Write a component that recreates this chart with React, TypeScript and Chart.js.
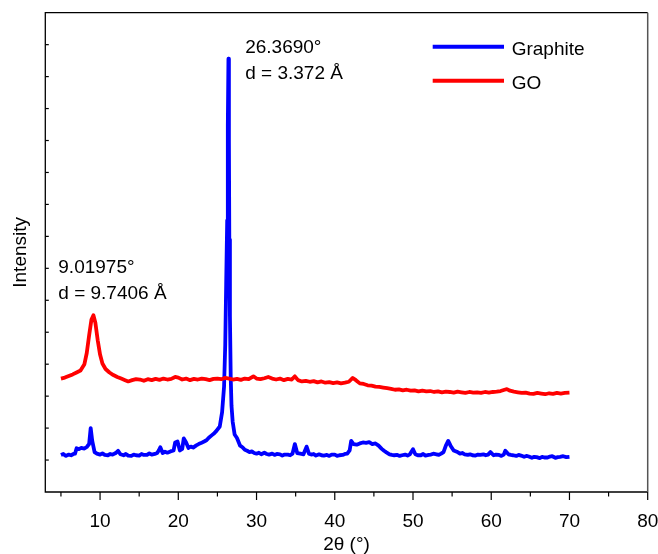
import React, { useEffect, useRef } from "react";
import { Chart, registerables } from "chart.js";

Chart.register(...registerables);

const seriesNames = ["Graphite", "GO"];
const seriesColors = ["#0000ff", "#ff0000"];

const graphiteX = [
  5.0, 5.3, 5.6, 6.0, 6.3, 6.6, 6.8, 7.0, 7.3, 7.6, 8.0, 8.3, 8.6, 8.8, 9.0, 9.3, 9.6, 10.0, 10.3, 10.6, 11.0, 11.3, 11.6, 12.0, 12.3, 12.6,
  13.0, 13.3, 13.6, 14.0, 14.3, 14.6, 15.0, 15.3, 15.6, 16.0, 16.3, 16.6, 17.0, 17.3, 17.5, 17.7, 18.0, 18.3, 18.6, 19.0, 19.4, 19.6, 19.9, 20.2,
  20.5, 20.7, 21.0, 21.3, 21.6, 21.9, 22.3, 22.6, 22.9, 23.3, 23.6, 23.9, 24.3, 24.6, 24.9, 25.3, 25.6, 25.85, 26.0, 26.12, 26.25, 26.33, 26.41,
  26.47, 26.52, 26.6, 26.7, 26.8, 26.95, 27.2, 27.5, 27.9, 28.2, 28.5, 28.8, 29.1, 29.4, 29.7, 30.0, 30.3, 30.6, 31.0, 31.3, 31.6, 32.0, 32.3, 32.6, 33.0,
  33.3, 33.6, 34.0, 34.3, 34.6, 34.9, 35.2, 35.6, 36.0, 36.4, 36.7, 37.0, 37.3, 37.6, 38.0, 38.3, 38.6, 39.0, 39.3, 39.6, 40.0, 40.3, 40.6, 41.0,
  41.3, 41.6, 41.9, 42.1, 42.4, 42.8, 43.2, 43.6, 44.0, 44.4, 44.8, 45.2, 45.6, 46.0, 46.3, 46.6, 47.0, 47.3, 47.6, 48.0, 48.3, 48.6,
  49.0, 49.3, 49.6, 50.0, 50.3, 50.6, 51.0, 51.3, 51.6, 52.0, 52.3, 52.6, 53.0, 53.3, 53.6, 53.9, 54.2, 54.5, 54.8, 55.2, 55.6, 56.0, 56.3, 56.6,
  57.0, 57.3, 57.6, 58.0, 58.3, 58.6, 59.0, 59.3, 59.6, 59.9, 60.3, 60.6, 61.0, 61.3, 61.6, 61.8, 62.2, 62.5, 62.8, 63.2, 63.5, 63.8, 64.2, 64.5, 64.8, 65.2,
  65.5, 65.8, 66.2, 66.5, 66.8, 67.2, 67.5, 67.8, 68.2, 68.5, 68.8, 69.2, 69.6, 70.0,
];
const graphiteY = [
  1.16, 1.19, 1.13, 1.17, 1.15, 1.19, 1.2, 1.37, 1.34, 1.38, 1.36, 1.41, 1.5, 2.0, 1.6, 1.25, 1.2, 1.17, 1.21, 1.16, 1.15, 1.19, 1.17, 1.22, 1.29, 1.18,
  1.15, 1.19, 1.14, 1.13, 1.17, 1.15, 1.14, 1.19, 1.16, 1.16, 1.21, 1.17, 1.19, 1.22, 1.3, 1.4, 1.22, 1.26, 1.23, 1.27, 1.3, 1.55, 1.58, 1.3,
  1.35, 1.68, 1.55, 1.38, 1.42, 1.39, 1.46, 1.5, 1.53, 1.58, 1.62, 1.7, 1.78, 1.84, 1.92, 2.05, 2.5, 3.3, 4.6, 6.5, 8.5, 11.5, 13.56,
  11.0, 7.9, 5.5, 3.6, 2.7, 2.2, 1.8, 1.69, 1.45, 1.4, 1.32, 1.29, 1.25, 1.27, 1.22, 1.2, 1.23, 1.18, 1.23, 1.19, 1.17, 1.2, 1.16, 1.19, 1.18,
  1.14, 1.17, 1.17, 1.15, 1.2, 1.5, 1.22, 1.2, 1.18, 1.42, 1.2, 1.17, 1.19, 1.14, 1.18, 1.15, 1.14, 1.16, 1.13, 1.17, 1.17, 1.13, 1.15, 1.16,
  1.19, 1.2, 1.3, 1.6, 1.5, 1.48, 1.52, 1.55, 1.54, 1.56, 1.5, 1.52, 1.45, 1.35, 1.29, 1.24, 1.18, 1.16, 1.15, 1.16, 1.13, 1.15,
  1.17, 1.14, 1.18, 1.34, 1.18, 1.15, 1.15, 1.19, 1.14, 1.16, 1.17, 1.2, 1.18, 1.16, 1.2, 1.25, 1.45, 1.6, 1.45, 1.3, 1.26, 1.2, 1.22, 1.18,
  1.16, 1.18, 1.15, 1.14, 1.17, 1.16, 1.18, 1.15, 1.17, 1.25, 1.15, 1.17, 1.16, 1.13, 1.17, 1.29, 1.18, 1.16, 1.15, 1.13, 1.16, 1.14, 1.1, 1.13, 1.11, 1.07,
  1.1, 1.09, 1.06, 1.1, 1.08, 1.08, 1.11, 1.12, 1.07, 1.09, 1.1, 1.12, 1.09, 1.1,
];

const goX = [
  5.0, 5.5, 6.0, 6.5, 7.0, 7.5, 8.0, 8.3, 8.6, 8.9, 9.15, 9.4, 9.7, 10.0, 10.3, 10.7, 11.2, 11.7, 12.2, 12.7,
  13.2, 13.6, 14.1, 14.6, 15.1, 15.6, 16.1, 16.6, 17.1, 17.6, 18.1, 18.6, 19.1, 19.6, 20.0, 20.5, 21.0, 21.5,
  22.0, 22.5, 23.0, 23.5, 24.0, 24.5, 25.0, 25.5, 26.0, 26.5, 27.0, 27.5, 28.0, 28.5, 29.0, 29.6, 30.0, 30.5,
  31.0, 31.5, 32.0, 32.5, 33.0, 33.5, 34.0, 34.5, 34.9, 35.3, 35.8, 36.3, 36.8, 37.3, 37.8, 38.3, 38.8, 39.3,
  39.8, 40.3, 40.8, 41.3, 41.8, 42.3, 42.7, 43.2, 43.7, 44.2, 44.7, 45.2, 45.7, 46.2, 46.7, 47.2, 47.7, 48.2,
  48.7, 49.2, 49.7, 50.2, 50.7, 51.2, 51.7, 52.2, 52.7, 53.2, 53.7, 54.2, 54.7, 55.2, 55.7, 56.2, 56.7, 57.2,
  57.7, 58.2, 58.7, 59.2, 59.7, 60.2, 60.7, 61.2, 61.7, 62.0, 62.4, 62.9, 63.4, 63.9, 64.4, 64.9, 65.4, 65.9,
  66.4, 66.9, 67.4, 67.9, 68.4, 68.9, 69.4, 70.0,
];
const goY = [
  3.55, 3.58, 3.63, 3.68, 3.74, 3.8, 4.0, 4.35, 4.9, 5.4, 5.53, 5.3, 4.75, 4.3, 4.02, 3.85, 3.74, 3.66, 3.6, 3.55,
  3.5, 3.46, 3.5, 3.53, 3.52, 3.48, 3.53, 3.5, 3.54, 3.51, 3.55, 3.52, 3.54, 3.6, 3.58, 3.52, 3.55, 3.5,
  3.54, 3.52, 3.55, 3.53, 3.5, 3.54, 3.55, 3.53, 3.57, 3.55, 3.52, 3.54, 3.51, 3.55, 3.53, 3.62, 3.55, 3.53,
  3.56, 3.6, 3.55, 3.52, 3.55, 3.5, 3.54, 3.52, 3.62, 3.5, 3.46, 3.48, 3.45, 3.47, 3.43, 3.46, 3.42, 3.44,
  3.41, 3.43, 3.4, 3.42, 3.45, 3.57, 3.5, 3.4, 3.38, 3.34, 3.33, 3.3, 3.29, 3.27, 3.25, 3.23, 3.2, 3.21,
  3.18, 3.2, 3.17, 3.18, 3.15, 3.17, 3.15, 3.16, 3.13, 3.15, 3.12, 3.14, 3.13, 3.11, 3.14, 3.12, 3.1, 3.13,
  3.11, 3.12, 3.1, 3.13, 3.11, 3.13, 3.14, 3.16, 3.2, 3.22, 3.17, 3.14, 3.12, 3.1, 3.11, 3.08, 3.07, 3.1,
  3.08, 3.06, 3.09, 3.07, 3.1, 3.08, 3.1, 3.11,
];

const xMajorTicks = [10, 20, 30, 40, 50, 60, 70, 80];
const xMinorTicks = [5, 15, 25, 35, 45, 55, 65, 75];
const yTicks = [1, 2, 3, 4, 5, 6, 7, 8, 9, 10, 11, 12, 13, 14];

const annotations = [
  { lines: ["26.3690°", "d = 3.372 Å"], x: 28.55, y: 13.75 },
  { lines: ["9.01975°", "d = 9.7406 Å"], x: 4.66, y: 6.85 },
];

const FONT = '"Liberation Sans", Arial, Helvetica, sans-serif';
const FS = 19;

const decorPlugin = {
  id: "decor",
  afterDraw(chart: any) {
    const { ctx, chartArea: a, scales } = chart;
    const xs = scales.x;
    const ys = scales.y;
    ctx.save();
    ctx.lineCap = "butt";
    ctx.strokeStyle = "#000";
    ctx.lineWidth = 1.3;
    ctx.beginPath();
    ctx.moveTo(a.right, a.top);
    ctx.lineTo(a.left, a.top);
    ctx.lineTo(a.left, a.bottom);
    ctx.lineTo(a.right, a.bottom);
    ctx.stroke();
    ctx.strokeStyle = "#555";
    ctx.lineWidth = 1.5;
    ctx.beginPath();
    ctx.moveTo(a.right, a.top);
    ctx.lineTo(a.right, a.bottom);
    ctx.stroke();
    ctx.strokeStyle = "#000";
    ctx.lineWidth = 1.2;
    for (const v of xMajorTicks) {
      const px = xs.getPixelForValue(v);
      ctx.beginPath();
      ctx.moveTo(px, a.bottom);
      ctx.lineTo(px, a.bottom + 8);
      ctx.stroke();
    }
    for (const v of xMinorTicks) {
      const px = xs.getPixelForValue(v);
      ctx.beginPath();
      ctx.moveTo(px, a.bottom);
      ctx.lineTo(px, a.bottom + 4.5);
      ctx.stroke();
    }
    for (const v of yTicks) {
      const py = ys.getPixelForValue(v);
      ctx.beginPath();
      ctx.moveTo(a.left, py);
      ctx.lineTo(a.left + 3.5, py);
      ctx.stroke();
    }
    const ds = chart.data.datasets;
    const legX0 = 432.7;
    const legX1 = 504;
    const legY = [46.7, 80.7];
    ctx.font = `${FS}px ${FONT}`;
    ctx.textBaseline = "middle";
    ctx.textAlign = "left";
    ds.forEach((d: any, i: number) => {
      ctx.strokeStyle = d.borderColor;
      ctx.lineWidth = 4;
      ctx.beginPath();
      ctx.moveTo(legX0, legY[i]);
      ctx.lineTo(legX1, legY[i]);
      ctx.stroke();
      ctx.fillStyle = "#000";
      ctx.fillText(d.label, 511.7, legY[i] + 3);
    });
    ctx.textBaseline = "alphabetic";
    for (const an of annotations) {
      const px = xs.getPixelForValue(an.x);
      const py = ys.getPixelForValue(an.y);
      an.lines.forEach((t, i) => ctx.fillText(t, px, py + i * 26));
    }
    ctx.restore();
  },
};

export default function App() {
  const ref = useRef<HTMLCanvasElement | null>(null);
  useEffect(() => {
    if (!ref.current) return;
    Chart.defaults.font.family = FONT;
    Chart.defaults.color = "#000";
    const lineStyle = { borderWidth: 3.8, pointRadius: 0, tension: 0, borderJoinStyle: "round" };
    const chart = new Chart(ref.current, {
      type: "line",
      data: {
        datasets: [
          {
            label: seriesNames[0],
            data: graphiteX.map((x, i) => ({ x, y: graphiteY[i] })),
            borderColor: seriesColors[0],
            backgroundColor: seriesColors[0],
            ...lineStyle,
            order: 2,
          },
          {
            label: seriesNames[1],
            data: goX.map((x, i) => ({ x, y: goY[i] })),
            borderColor: seriesColors[1],
            backgroundColor: seriesColors[1],
            ...lineStyle,
            order: 1,
          },
        ],
      },
      options: {
        animation: false,
        responsive: false,
        maintainAspectRatio: false,
        layout: { padding: { top: 12.7, right: 10.3, left: 0, bottom: 0 } },
        plugins: { legend: { display: false }, tooltip: { enabled: false } },
        scales: {
          x: {
            type: "linear",
            min: 3,
            max: 80,
            afterBuildTicks: (s: any) => {
              s.ticks = xMajorTicks.map((v) => ({ value: v }));
            },
            afterFit: (s: any) => {
              s.height = 62;
              s.paddingLeft = 0;
              s.paddingRight = 0;
            },
            grid: { display: false, drawTicks: false },
            border: { display: false },
            ticks: { font: { size: FS }, padding: 18, maxRotation: 0, autoSkip: false, color: "#000" },
            title: { display: true, text: "2θ (°)", font: { size: FS, lineHeight: 1 }, padding: { top: 0, bottom: 0 }, color: "#000" },
          },
          y: {
            type: "linear",
            min: 0,
            max: 15,
            afterFit: (s: any) => {
              s.width = 45.3;
              s.paddingTop = 0;
              s.paddingBottom = 0;
            },
            grid: { display: false, drawTicks: false },
            border: { display: false },
            ticks: { display: false },
            title: { display: true, text: "Intensity", font: { size: FS, lineHeight: 1 }, padding: { top: 11, bottom: 0 }, color: "#000" },
          },
        },
      },
      plugins: [decorPlugin],
    } as any);
    return () => chart.destroy();
  }, []);
  return (
    <div style={{ position: "absolute", left: 0, top: 0, width: 658, height: 554, background: "#fff" }}>
      <canvas ref={ref} width={658} height={554} style={{ display: "block", width: 658, height: 554 }} />
    </div>
  );
}
